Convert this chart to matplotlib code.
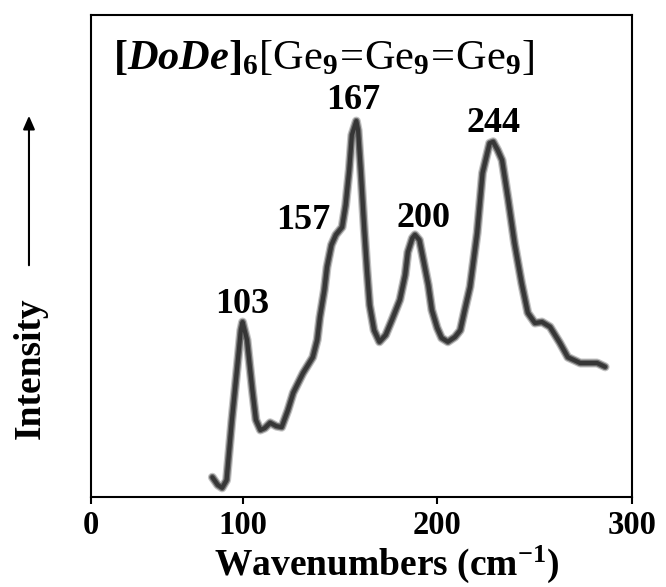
import numpy as np
import matplotlib
matplotlib.use("Agg")
import matplotlib.pyplot as plt
from matplotlib.patches import FancyArrowPatch
from matplotlib.ticker import FixedLocator

# Raman spectrum: wavenumber (cm-1) vs. intensity (arb. units)
wavenumber = [86, 89, 91.5, 94, 97, 100, 102, 103, 105.5, 108.5, 110.5,
              113, 115.5, 118.5, 122, 125, 128.5, 131.5, 137, 142.5, 145,
              146.5, 149, 150.5, 153, 155.5, 159, 161, 163, 164.5, 167,
              168, 169.5, 171.5, 173, 174.5, 177, 180, 183.5, 187, 191.5,
              194.5, 196, 198.5, 200, 202.5, 204.5, 207.5, 209.5, 212.5,
              215, 218.5, 222.5, 225.5, 228, 231, 235, 238, 242, 244,
              246.5, 249, 252.5, 256, 260, 263.5, 267.5, 271.5, 276,
              281.5, 286, 293, 302.5, 307]
intensity = [4.1, 2.5, 1.9, 3.5, 16.0, 27.0, 34.6, 36.3, 32.6, 22.2, 16.0,
             13.9, 14.3, 15.4, 14.7, 14.5, 18.0, 21.6, 25.7, 29.0, 32.6,
             37.3, 42.9, 47.7, 52.3, 54.4, 56.0, 60.6, 67.8, 75.1, 78.0,
             76.1, 67.8, 55.4, 47.1, 39.8, 34.6, 32.2, 33.6, 36.7, 40.9,
             46.1, 50.8, 53.7, 54.4, 53.3, 49.6, 44.0, 38.8, 35.1,
             33.0, 32.2, 33.2, 34.6, 38.8, 43.6, 54.8, 67.2, 73.4, 73.7,
             72.0, 69.9, 61.6, 52.7, 44.4, 38.2, 36.1, 36.3, 35.3,
             32.0, 29.0, 27.8, 27.8, 27.0]

peak_pos = [103, 157, 167, 200, 244]
peak_text = ["103", "157", "167", "200", "244"]
x_ticks = [0, 100, 200, 300]

plt.rcParams["font.family"] = ["Liberation Serif", "DejaVu Serif"]
plt.rcParams["mathtext.fontset"] = "custom"
plt.rcParams["mathtext.rm"] = "Liberation Serif"
plt.rcParams["mathtext.it"] = "Liberation Serif:italic"
plt.rcParams["mathtext.bf"] = "Liberation Serif:bold"
plt.rcParams["mathtext.bfit"] = "Liberation Serif:italic:bold"

fig = plt.figure(figsize=(6.66, 5.87), dpi=100)
ax = fig.add_axes([0.1366, 0.1533, 0.8123, 0.8211])

# printed axis scale is not evenly spaced
tick_frac = [0, 0.281, 0.6396, 1.0]
def fwd(x):
    return np.interp(x, x_ticks, tick_frac)
def inv(f):
    return np.interp(f, tick_frac, x_ticks)

ax.set_xscale("function", functions=(fwd, inv))
ax.set_xlim(0, 300)
ax.set_ylim(0, 100)
ax.xaxis.set_major_locator(FixedLocator(x_ticks))
ax.set_yticks([])
ax.tick_params(axis="x", direction="out", length=5, width=1.5, pad=4,
               labelsize=23.5)
for lab in ax.get_xticklabels():
    lab.set_fontweight("bold")
for s in ax.spines.values():
    s.set_linewidth(1.5)

# spectrum in its own wavenumber frame
cax = ax.twiny()
cax.set_xlim(17.7, 322.1)
cax.axis("off")
for lw, c in [(6.5, "#c4c4c4"), (4.8, "#707070"), (3.0, "#363636")]:
    cax.plot(wavenumber, intensity, color=c, lw=lw,
             solid_joinstyle="round", solid_capstyle="round")

peak_height = np.interp(peak_pos, wavenumber, intensity)
offsets = [(0, 6.5, "center"), (-5.8, 2, "right"), (-2, 8.6, "center"),
           (6.5, 5.8, "center"), (0, 7.2, "center")]
for p, h, t, (dx, dy, ha) in zip(peak_pos, peak_height, peak_text, offsets):
    cax.annotate(t, xy=(p, h), xytext=(dx, dy), textcoords="offset points",
                 ha=ha, va="baseline", fontsize=26, fontweight="bold")

ax.text(0.04, 0.888,
        r"$\mathbf{[}\mathbfit{DoDe}\mathbf{]}_\mathbf{6}[\mathrm{Ge}_\mathbf{9}\!=\!"
        r"\mathrm{Ge}_\mathbf{9}\!=\!\mathrm{Ge}_\mathbf{9}]$",
        transform=ax.transAxes, fontsize=30.5, va="baseline", ha="left")

fig.text(0.58, 0.0204, r"Wavenumbers (cm$^{\mathbf{-1}}$)", ha="center",
         va="baseline", fontsize=27, fontweight="bold")

fig.text(0.045, 0.373, "Intensity", rotation=90, ha="center", va="center",
         fontsize=27, fontweight="bold")
fig.add_artist(FancyArrowPatch(
    (0.0435, 0.5434), (0.0435, 0.8075), transform=fig.transFigure,
    arrowstyle="-|>,head_length=8,head_width=3.5", color="black", lw=1.5))

fig.savefig("out.png", dpi=100)
